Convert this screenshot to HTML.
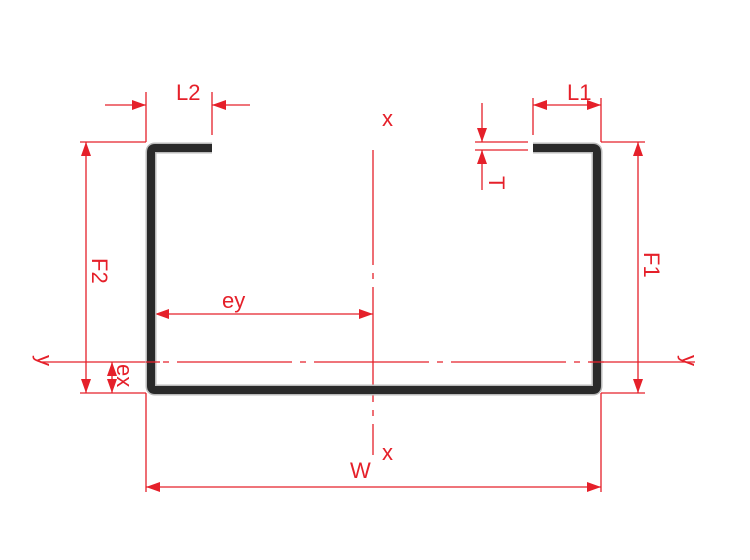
<!DOCTYPE html>
<html><head><meta charset="utf-8"><style>body{margin:0;background:#fff}svg{display:block}</style></head><body>
<svg width="750" height="560" viewBox="0 0 750 560" xmlns="http://www.w3.org/2000/svg">
<defs>
<marker id="a" markerWidth="14" markerHeight="10" refX="14" refY="5" orient="auto" markerUnits="userSpaceOnUse"><path d="M0,0L14,5L0,10Z" fill="#e5202a"/></marker>
</defs>
<g stroke="#e5202a" stroke-width="1.3" fill="none">
<line x1="146" y1="92" x2="146" y2="142"/><line x1="212" y1="92" x2="212" y2="135"/>
<line x1="105" y1="105" x2="146" y2="105" marker-end="url(#a)"/>
<line x1="250" y1="105" x2="212" y2="105" marker-end="url(#a)"/>
<line x1="533" y1="98" x2="533" y2="135"/><line x1="601" y1="98" x2="601" y2="142"/>
<line x1="567" y1="105" x2="533" y2="105" marker-end="url(#a)"/>
<line x1="567" y1="105" x2="601" y2="105" marker-end="url(#a)"/>
<line x1="475" y1="142" x2="528" y2="142"/><line x1="475" y1="150" x2="528" y2="150"/>
<line x1="482" y1="103" x2="482" y2="142" marker-end="url(#a)"/>
<line x1="482" y1="190" x2="482" y2="150" marker-end="url(#a)"/>
<line x1="80" y1="142" x2="146" y2="142"/><line x1="80" y1="393" x2="146" y2="393"/>
<line x1="86" y1="268" x2="86" y2="142" marker-end="url(#a)"/>
<line x1="86" y1="268" x2="86" y2="393" marker-end="url(#a)"/>
<line x1="601" y1="142" x2="645" y2="142"/><line x1="601" y1="393" x2="645" y2="393"/>
<line x1="638" y1="268" x2="638" y2="142" marker-end="url(#a)"/>
<line x1="638" y1="268" x2="638" y2="393" marker-end="url(#a)"/>
<line x1="264" y1="314" x2="155" y2="314" marker-end="url(#a)"/>
<line x1="264" y1="314" x2="373" y2="314" marker-end="url(#a)"/>
<line x1="112" y1="378" x2="112" y2="362" marker-end="url(#a)"/>
<line x1="112" y1="378" x2="112" y2="393" marker-end="url(#a)"/>
<line x1="40" y1="362" x2="695" y2="362" stroke-dasharray="115,8,6,8"/>
<line x1="373" y1="150" x2="373" y2="455" stroke-dasharray="115,8,6,8"/>
<line x1="146" y1="393" x2="146" y2="492"/><line x1="601" y1="393" x2="601" y2="492"/>
<line x1="373" y1="487" x2="146" y2="487" marker-end="url(#a)"/>
<line x1="373" y1="487" x2="601" y2="487" marker-end="url(#a)"/>
</g>
<path d="M212,148 H155 Q151,148 151,152 V386 Q151,390 155,390 H593 Q597,390 597,386 V152 Q597,148 593,148 H533" fill="none" stroke="#bbb" stroke-width="11"/>
<path d="M212,148 H155 Q151,148 151,152 V386 Q151,390 155,390 H593 Q597,390 597,386 V152 Q597,148 593,148 H533" fill="none" stroke="#2a2a2a" stroke-width="8"/>
<line x1="146" y1="362" x2="160" y2="362" stroke="#e5202a" stroke-width="1.3"/>
<line x1="590" y1="362" x2="604" y2="362" stroke="#e5202a" stroke-width="1.3"/>
<g fill="#e5202a" font-family="Liberation Sans, sans-serif" font-size="22">
<text x="176" y="100">L2</text>
<text x="567" y="100">L1</text>
<text x="222" y="308">ey</text>
<text x="350" y="478">W</text>
<text x="382" y="126">x</text>
<text x="382" y="460">x</text>
<text transform="translate(92,258) rotate(90)">F2</text>
<text transform="translate(644,252) rotate(90)">F1</text>
<text transform="translate(489,176) rotate(90)">T</text>
<text transform="translate(117,364) rotate(90)">ex</text>
<text transform="translate(37,355) rotate(90)">y</text>
<text transform="translate(682,355) rotate(90)">y</text>
</g>
</svg>
</body></html>
